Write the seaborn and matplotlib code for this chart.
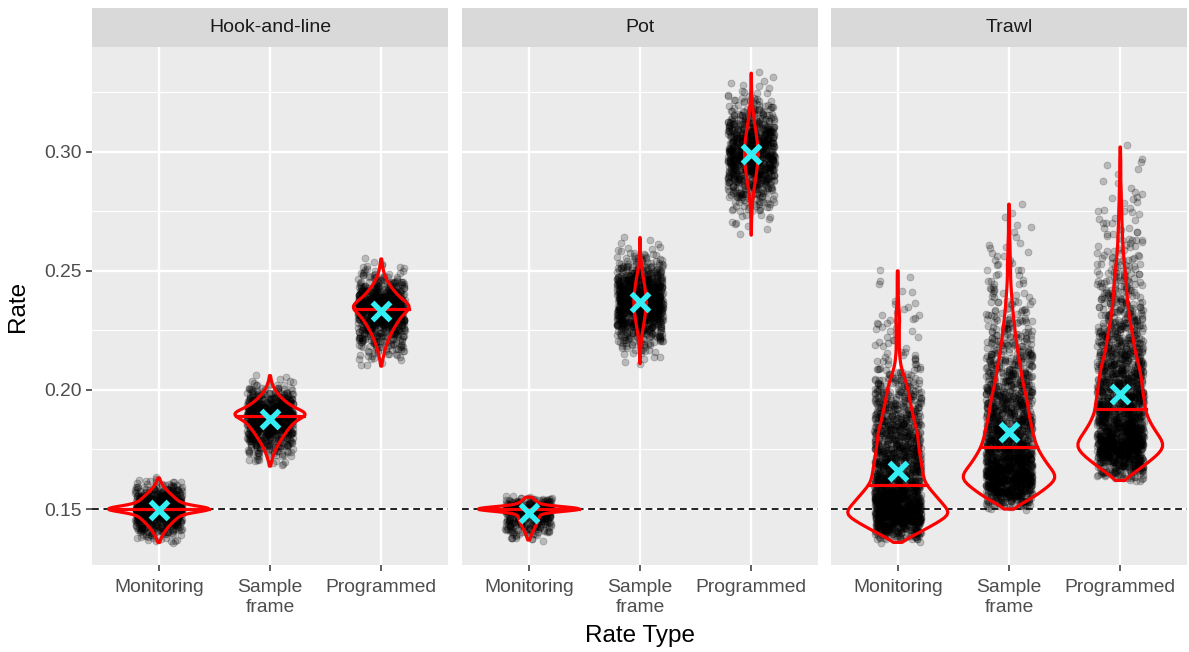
import numpy as np
import pandas as pd
import matplotlib
matplotlib.use("Agg")
import matplotlib.pyplot as plt
import seaborn as sns
from matplotlib.patches import Rectangle
from matplotlib.ticker import FixedLocator

plt.rcParams["font.family"] = ["Liberation Sans", "DejaVu Sans"]

# ---------------- data ----------------
gear_types = ["Hook-and-line", "Pot", "Trawl"]
rate_types = ["Monitoring", "Sample frame", "Programmed"]
rate_type_labels = ["Monitoring", "Sample\nframe", "Programmed"]
target_rate = 0.15
y_ticks = [0.15, 0.20, 0.25, 0.30]
y_tick_labels = ["0.15", "0.20", "0.25", "0.30"]
y_minor = [0.175, 0.225, 0.275, 0.325]

# binned rate distributions: lowest bin value, bin step, counts per bin
hl_mon_start, hl_mon_step = 0.136, 0.001
hl_mon_counts = [2, 4, 6, 9, 12, 16, 20, 25, 30, 36, 42, 48, 55, 62, 230,
                 62, 55, 48, 42, 36, 30, 24, 18, 13, 9, 6, 3, 2]
hl_sf_start, hl_sf_step = 0.168, 0.001
hl_sf_counts = [1, 2, 3, 4, 5, 7, 9, 11, 13, 15, 18, 21, 24, 27, 30, 33, 36, 40, 44, 48,
                53, 60, 110, 55, 48, 42, 36, 30, 25, 20, 16, 12, 9, 7, 5, 3, 2, 2, 1]
hl_pr_start, hl_pr_step = 0.210, 0.001
hl_pr_counts = [1, 1, 2, 3, 4, 5, 6, 7, 8, 10, 11, 13, 15, 17, 19, 21, 24, 26, 29, 32,
                35, 38, 41, 45, 50, 80, 48, 43, 38, 34, 30, 26, 22, 19, 16, 13,
                10, 8, 6, 5, 4, 3, 2, 2, 1, 1]

pt_mon_start, pt_mon_step = 0.137, 0.001
pt_mon_counts = [3, 4, 6, 9, 12, 15, 18, 21, 24, 26, 27, 28, 28, 270, 28, 26, 22, 15, 6]
pt_sf_start, pt_sf_step = 0.211, 0.001
pt_sf_counts = [1, 1, 1, 2, 2, 3, 4, 5, 7, 8, 10, 12, 14, 17, 20, 23, 26, 29, 32, 35,
                37, 39, 41, 43, 44, 45, 50, 45, 44, 43, 41, 39, 37, 34, 31, 28, 25,
                22, 19, 16, 13, 11, 9, 7, 6, 5, 4, 3, 2, 2, 1, 1, 1, 1]
pt_pr_start, pt_pr_step = 0.265, 0.002
pt_pr_counts = [1, 1, 2, 3, 4, 6, 9, 12, 17, 23, 29, 36, 44, 50, 57, 62, 65, 66,
                65, 62, 57, 50, 44, 36, 29, 23, 17, 13, 9, 6, 4, 3, 2, 1, 1]

tw_mon_start, tw_mon_step = 0.136, 0.002
tw_mon_counts = [2, 24, 40, 58, 74, 90, 104, 96, 88, 80,
                 72, 64, 56, 51, 50, 48, 47, 45, 44, 42,
                 41, 40, 39, 38, 36, 33, 31, 29, 27, 25,
                 23, 22, 20, 18, 15, 12, 9, 6, 5, 4,
                 3, 3, 3, 3, 3, 3, 3, 4, 3, 2,
                 2, 1, 1, 1, 1, 1, 1, 1]
tw_sf_start, tw_sf_step = 0.150, 0.002
tw_sf_counts = [4, 22, 40, 54, 66, 78, 90, 92, 84, 76,
                70, 64, 58, 54, 50, 48, 46, 44, 42, 40,
                38, 37, 36, 34, 32, 30, 28, 26, 24, 23,
                22, 20, 18, 17, 16, 14, 13, 12, 11, 10,
                9, 8, 7, 6, 6, 5, 4, 4, 3, 3,
                3, 3, 3, 2, 2, 2, 2, 1, 1, 1,
                1, 1, 1, 0, 1]
tw_pr_start, tw_pr_step = 0.162, 0.002
tw_pr_counts = [4, 20, 32, 44, 56, 68, 78, 86, 84, 76,
                70, 64, 58, 54, 50, 47, 48, 46, 44, 43,
                42, 41, 40, 38, 36, 34, 31, 29, 27, 26,
                24, 23, 22, 19, 18, 17, 16, 14, 14, 13,
                12, 12, 11, 10, 10, 8, 7, 7, 6, 5,
                5, 4, 4, 4, 3, 3, 3, 3, 2, 2,
                2, 2, 1, 1, 1, 1, 1, 1, 1, 0,
                1]

groups = [
    ("Hook-and-line", "Monitoring", hl_mon_start, hl_mon_step, hl_mon_counts),
    ("Hook-and-line", "Sample frame", hl_sf_start, hl_sf_step, hl_sf_counts),
    ("Hook-and-line", "Programmed", hl_pr_start, hl_pr_step, hl_pr_counts),
    ("Pot", "Monitoring", pt_mon_start, pt_mon_step, pt_mon_counts),
    ("Pot", "Sample frame", pt_sf_start, pt_sf_step, pt_sf_counts),
    ("Pot", "Programmed", pt_pr_start, pt_pr_step, pt_pr_counts),
    ("Trawl", "Monitoring", tw_mon_start, tw_mon_step, tw_mon_counts),
    ("Trawl", "Sample frame", tw_sf_start, tw_sf_step, tw_sf_counts),
    ("Trawl", "Programmed", tw_pr_start, tw_pr_step, tw_pr_counts),
]

# violin style per group: max width (category units), bandwidth adjustment
violin_width = {
    ("Hook-and-line", "Monitoring"): 0.90, ("Hook-and-line", "Sample frame"): 0.63,
    ("Hook-and-line", "Programmed"): 0.50,
    ("Pot", "Monitoring"): 0.90, ("Pot", "Sample frame"): 0.11, ("Pot", "Programmed"): 0.12,
    ("Trawl", "Monitoring"): 0.90, ("Trawl", "Sample frame"): 0.82, ("Trawl", "Programmed"): 0.76,
}
violin_bw = {"Hook-and-line": 1.0, "Pot": 1.0, "Trawl": 0.4}

frames = []
for gear, rtype, start, step, counts in groups:
    values = np.round(start + step * np.arange(len(counts)), 4)
    frames.append(pd.DataFrame({"gear": gear, "type": rtype, "step": step,
                                "rate": np.repeat(values, counts)}))
df = pd.concat(frames, ignore_index=True)
df["xpos"] = df["type"].map({t: i for i, t in enumerate(rate_types)})

# ---------------- figure ----------------
W, H = 1189, 652
fig = plt.figure(figsize=(W / 100, H / 100), dpi=100)
panel_x0 = [92, 462, 831]
panel_w = 356
panel_top, panel_bottom = 47, 565
strip_h = 39

RED = "#FF0000"
CYAN = "#33EEF5"
TICK_COL = "#4D4D4D"

for i, gear in enumerate(gear_types):
    ax = fig.add_axes([panel_x0[i] / W, (H - panel_bottom) / H,
                       panel_w / W, (panel_bottom - panel_top) / H])
    ax.set_facecolor("#EBEBEB")
    sub = df[df["gear"] == gear]

    ax.axhline(target_rate, color="#222222", lw=1.4, linestyle=(0, (3.5, 2.4)), zorder=0.8)

    # jittered points (seaborn's own x/y jitter, like geom_jitter)
    for rtype in rate_types:
        g = sub[sub["type"] == rtype]
        sns.regplot(data=g, x="xpos", y="rate", fit_reg=False,
                    x_jitter=0.21, y_jitter=float(g["step"].iloc[0]) / 2,
                    scatter_kws=dict(s=25, alpha=0.21, linewidths=0.6,
                                     edgecolors="black", color="black", zorder=1),
                    ax=ax)

    for rtype in rate_types:
        g = sub[sub["type"] == rtype]
        n_before = len(ax.lines)
        sns.violinplot(data=g, x="type", y="rate", order=rate_types, color=RED,
                       fill=False, linewidth=2.3, inner="quart",
                       inner_kws=dict(color=RED, linewidth=2.3), cut=0,
                       density_norm="width", width=violin_width[(gear, rtype)],
                       bw_adjust=violin_bw[gear], ax=ax)
        new_lines = list(ax.lines[n_before:])
        for k, ln in enumerate(new_lines):
            if k % 3 == 1:
                ln.set_linestyle("-")
                ln.set_zorder(2)
            else:
                ln.remove()

    sns.pointplot(data=sub, x="type", y="rate", order=rate_types, estimator="mean",
                  errorbar=None, color=CYAN, marker="x", linestyle="none",
                  markersize=12.5, markeredgewidth=3.9, zorder=5, ax=ax)

    ax.set_xlim(-0.6, 2.6)
    ax.set_ylim(0.1265, 0.3440)
    ax.set_xticks(range(len(rate_types)))
    ax.set_xticklabels(rate_type_labels)
    ax.set_yticks(y_ticks)
    ax.set_yticklabels(y_tick_labels)
    ax.yaxis.set_minor_locator(FixedLocator(y_minor))
    ax.xaxis.set_minor_locator(FixedLocator([]))
    ax.set_axisbelow(True)
    ax.grid(True, which="major", axis="both", color="white", lw=1.7)
    ax.grid(True, which="minor", axis="y", color="white", lw=0.85)
    ax.tick_params(axis="both", which="major", length=4.4, width=1.1, color="#333333",
                   labelsize=13.9, labelcolor=TICK_COL)
    ax.tick_params(axis="x", which="major", pad=6)
    ax.tick_params(axis="y", which="major", pad=3)
    ax.tick_params(axis="y", which="minor", length=0)
    if i > 0:
        ax.tick_params(axis="y", which="both", left=False, labelleft=False)
    ax.set_xlabel("")
    ax.set_ylabel("")
    for s in ax.spines.values():
        s.set_visible(False)
    if ax.get_legend() is not None:
        ax.get_legend().remove()

    # facet strip
    hfrac = strip_h / (panel_bottom - panel_top)
    ax.add_patch(Rectangle((0, 1), 1, hfrac, transform=ax.transAxes, clip_on=False,
                           facecolor="#D9D9D9", edgecolor="none"))
    ax.text(0.5, 1 + hfrac / 2, gear, transform=ax.transAxes, ha="center", va="center",
            fontsize=14, color="#1A1A1A")

fig.text(18 / W, 1 - ((panel_top + panel_bottom) / 2) / H, "Rate", rotation=90,
         ha="center", va="center", fontsize=17.5, color="black")
fig.text(640 / W, 1 - 636 / H, "Rate Type", ha="center", va="center",
         fontsize=17.5, color="black")

fig.savefig("out.png", dpi=100)
